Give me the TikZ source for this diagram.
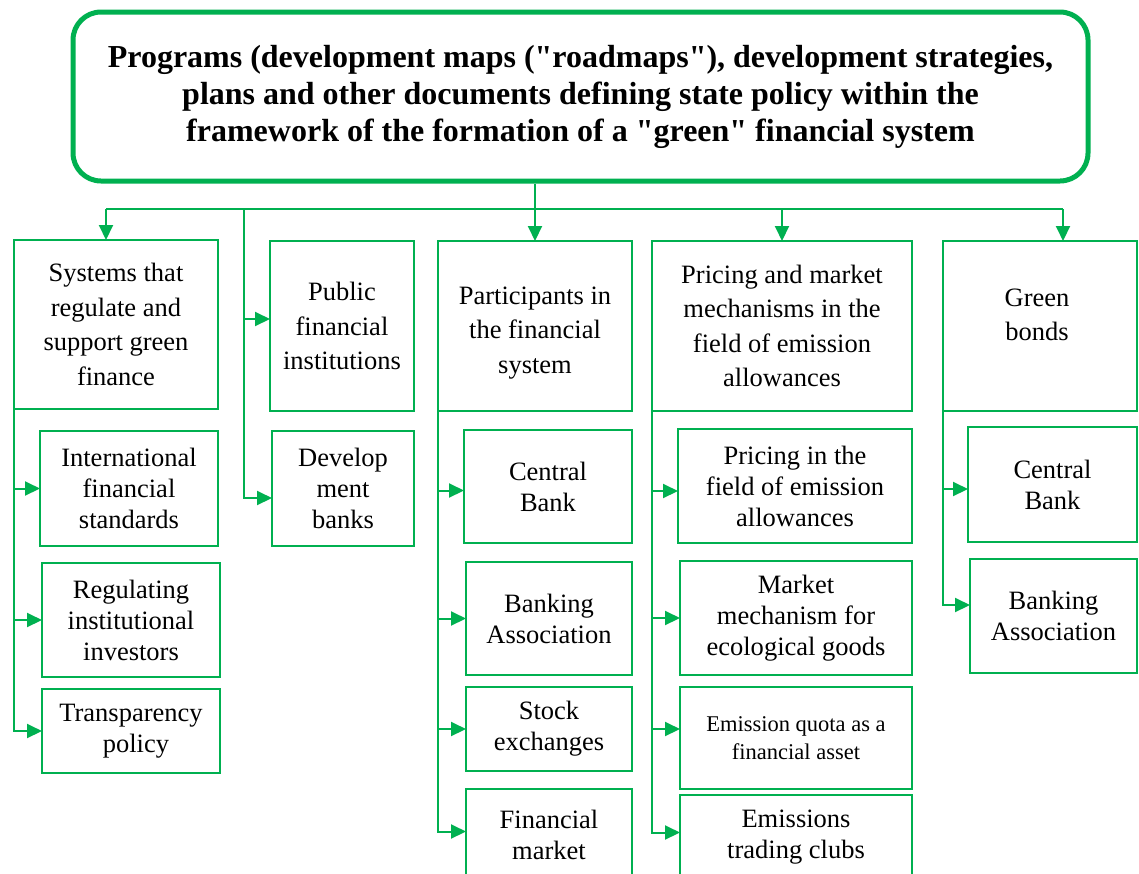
\documentclass[tikz,border=0pt]{standalone}
\usepackage{fontspec}
\setmainfont{Liberation Serif}[Ligatures=TeXOff]
\usetikzlibrary{arrows.meta}
\definecolor{grn}{HTML}{00B050}
\begin{document}
\begin{tikzpicture}[x=1pt,y=-1pt,
  box/.style={draw=grn,line width=2pt,inner sep=0pt,outer sep=0pt,align=center},
  mainf/.style={font=\fontsize{26.5}{34.5}\selectfont},
  subf/.style={font=\fontsize{26.5}{31}\selectfont},
  smallf/.style={font=\fontsize{22.5}{28}\selectfont},
  ln/.style={draw=grn,line width=2pt},
  arr/.style={-{Triangle[length=15pt,width=14pt]}}]
\useasboundingbox (0,0) rectangle (1139,873);
% title
\node[draw=grn,line width=5pt,rounded corners=28pt,minimum width=1015pt,minimum height=169pt,
  inner sep=0pt,align=center,font=\bfseries\fontsize{32}{37}\selectfont] (title) at (580.5,96.5)
  {Programs (development maps ("roadmaps"), development strategies,\\plans and other documents defining state policy within the\\framework of the formation of a "green" financial system};
% column 1
\node[box,mainf,minimum width=204pt,minimum height=169pt] (sys) at (116,324.5) {Systems that\\regulate and\\support green\\finance};
\node[box,subf,minimum width=178pt,minimum height=115pt] (isf) at (129,488.5) {International\\financial\\standards};
\node[box,subf,minimum width=178pt,minimum height=114pt] (rii) at (131,620) {Regulating\\institutional\\investors};
\node[box,subf,minimum width=178pt,minimum height=84pt] (tp) at (131,731) {Transparency\\\hspace*{10pt}policy};
% column 2
\node[box,mainf,minimum width=144pt,minimum height=170pt] (pub) at (342,326) {Public\\financial\\institutions};
\node[box,subf,minimum width=142pt,minimum height=115pt] (dev) at (343,488.5) {Develop\\ment\\banks};
% column 3
\node[box,minimum width=194pt,minimum height=170pt] (part) at (535,326) {};
\node[mainf,align=center,inner sep=0pt] (partt) at (535,333) {Participants in\\the financial\\system};
\node[box,subf,minimum width=168pt,minimum height=113pt] (cb1) at (548,486.5) {Central\\Bank};
\node[box,subf,minimum width=166pt,minimum height=113pt] (ba1) at (549,618.5) {Banking\\Association};
\node[box,subf,minimum width=166pt,minimum height=84pt] (se) at (549,729) {Stock\\exchanges};
\node[box,subf,minimum width=166pt,minimum height=91pt] (fm) at (549,834.5) {Financial\\market};
% column 4
\node[box,mainf,minimum width=260pt,minimum height=170pt] (pr) at (782,326) {Pricing and market\\mechanisms in the\\field of emission\\allowances};
\node[box,subf,minimum width=234pt,minimum height=114pt] (pf) at (795,486) {Pricing in the\\field of emission\\allowances};
\node[box,subf,minimum width=232pt,minimum height=114pt] (mm) at (796,618) {Market\\mechanism for\\ecological goods};
\node[box,smallf,minimum width=232pt,minimum height=102pt] (eq) at (796,738) {Emission quota as a\\financial asset};
\node[box,subf,minimum width=232pt,minimum height=85pt] (etc) at (796,837.5) {Emissions\\trading clubs};
% column 5
\node[box,minimum width=194pt,minimum height=170pt] (gb) at (1040,326) {};
\node[mainf,align=center,inner sep=0pt] (gbt) at (1037,315) {Green\\bonds};
\node[box,subf,minimum width=169pt,minimum height=115pt] (cb2) at (1052.5,484.5) {Central\\Bank};
\node[box,subf,minimum width=167pt,minimum height=114pt] (ba2) at (1053.5,616) {Banking\\Association};
% connectors
\coordinate (bus) at (536,209);
\coordinate (t2) at (244,209);
\coordinate (sysin) at ([xshift=-10pt]sys.north);
\coordinate (gbin) at ([xshift=23pt]gb.north);
\draw[ln] (sysin |- bus) -- (gbin |- bus);
\draw[ln,arr] (sysin |- bus) -- (sysin);
\draw[ln,arr] (title.south -| part.north) -- (part.north);
\draw[ln,arr] (pr.north |- bus) -- (pr.north);
\draw[ln,arr] (gbin |- bus) -- (gbin);
% column 1 arrows
\draw[ln,arr] (sys.south west) |- (tp.west);
\draw[ln,arr] (sys.south west |- isf.west) -- (isf.west);
\draw[ln,arr] (sys.south west |- rii.west) -- (rii.west);
% column 2 arrows
\coordinate (pa) at ([yshift=7pt]pub.west);
\coordinate (da) at ([yshift=-9.5pt]dev.west);
\draw[ln,arr] (t2) |- (da);
\draw[ln,arr] (t2 |- pa) -- (pa);
% column 3 arrows
\coordinate (fma) at ([yshift=3pt]fm.west);
\coordinate (cb1a) at ([yshift=-4pt]cb1.west);
\draw[ln,arr] (part.south west) |- (fma);
\draw[ln,arr] (part.south west |- cb1a) -- (cb1a);
\draw[ln,arr] (part.south west |- ba1.west) -- (ba1.west);
\draw[ln,arr] (part.south west |- se.west) -- (se.west);
% column 4 arrows
\coordinate (etca) at ([yshift=5pt]etc.west);
\coordinate (eqa) at ([yshift=9pt]eq.west);
\coordinate (pfa) at ([yshift=-5pt]pf.west);
\draw[ln,arr] (pr.south west) |- (etca);
\draw[ln,arr] (pr.south west |- pfa) -- (pfa);
\draw[ln,arr] (pr.south west |- mm.west) -- (mm.west);
\draw[ln,arr] (pr.south west |- eqa) -- (eqa);
% column 5 arrows
\coordinate (ba2a) at ([yshift=11pt]ba2.west);
\coordinate (cb2a) at ([yshift=-4.5pt]cb2.west);
\draw[ln,arr] (gb.south west) |- (ba2a);
\draw[ln,arr] (gb.south west |- cb2a) -- (cb2a);
\end{tikzpicture}
\end{document}
